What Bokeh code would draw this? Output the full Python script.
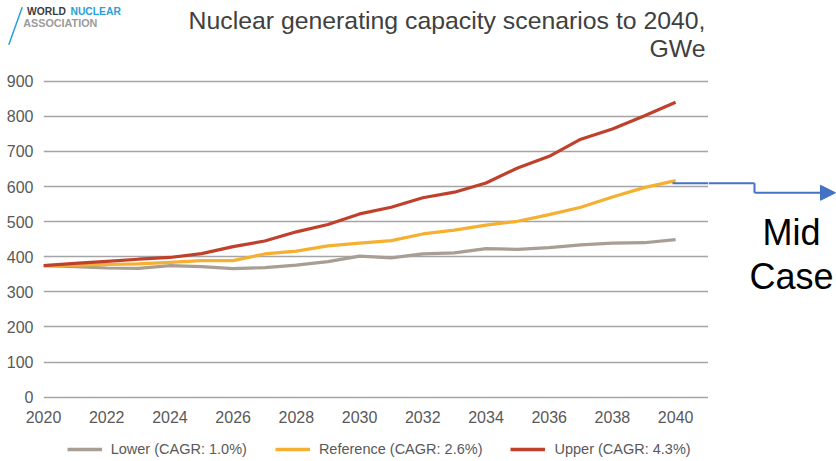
from bokeh.plotting import figure
from bokeh.layouts import column, row
from bokeh.models import (Range1d, FixedTicker, Label, Arrow, NormalHead, Legend, LegendItem)
from bokeh.embed import file_html
from bokeh.resources import INLINE

# ---- data ----
years = list(range(2020, 2041))
lower = [375, 372, 368, 367, 375, 372, 366, 369, 376, 386, 402, 397, 408, 411, 423, 421, 426, 434, 439, 440, 449]
reference = [375, 376, 378, 380, 384, 389, 389, 408, 416, 431, 439, 446, 465, 476, 490, 501, 520, 541, 570, 597, 617]
upper = [375, 381, 387, 393, 398, 409, 429, 445, 471, 492, 522, 541, 568, 584, 610, 653, 686, 735, 764, 801, 840]
series_names = ["Lower (CAGR: 1.0%)", "Reference (CAGR: 2.6%)", "Upper (CAGR: 4.3%)"]
series_colors = ["#A89E93", "#F5B031", "#C0412B"]
y_ticks = list(range(0, 1000, 100))
x_ticks = list(range(2020, 2042, 2))
title_lines = ["Nuclear generating capacity scenarios to 2040,", "GWe"]
logo_words = ["WORLD", "NUCLEAR", "ASSOCIATION"]
annotation_lines = ["Mid", "Case"]

FONT = "Liberation Sans"
BLUE = "#4472C4"
W = 836
H_HEAD = 70
H_MAIN = 360
H_LEG = 461 - H_HEAD - H_MAIN
X_SPLIT = 708
BORDER_TOP = 7
BORDER_BOTTOM = 29


def bare(fig):
    fig.outline_line_color = None
    fig.background_fill_color = "white"
    fig.border_fill_color = "white"
    fig.grid.visible = False
    return fig


# ---- header (logo + title), page-pixel coordinates ----
head = bare(figure(width=W, height=H_HEAD, output_backend="svg", toolbar_location=None,
                   x_range=Range1d(0, W), y_range=Range1d(H_HEAD, 0),
                   x_axis_location=None, y_axis_location=None, min_border=0))
head.add_layout(Label(x=705, y=20, text=title_lines[0], text_font=FONT, text_font_size="24.8px",
                      text_color="#404040", text_align="right", text_baseline="alphabetic"))
head.add_layout(Label(x=705, y=48, text=title_lines[1], text_font=FONT, text_font_size="24.8px",
                      text_color="#404040", text_align="right", text_baseline="alphabetic"))
head.add_layout(Label(x=26.5, y=11, text=logo_words[0], text_font=FONT, text_font_size="10.3px",
                      text_font_style="bold", text_color="#3C3C3C", text_baseline="alphabetic"))
head.add_layout(Label(x=70, y=11, text=logo_words[1], text_font=FONT, text_font_size="10.3px",
                      text_font_style="bold", text_color="#2A9FD8", text_baseline="alphabetic"))
head.add_layout(Label(x=22.7, y=22, text=logo_words[2], text_font=FONT, text_font_size="10.8px",
                      text_font_style="bold", text_color="#9B9B9B", text_baseline="alphabetic"))
head.add_layout(Arrow(x_start=21.7, y_start=6.7, x_end=8.3, y_end=44.3, end=None,
                      line_color="#2A9FD8", line_width=1.5))

# ---- main chart ----
p = figure(width=X_SPLIT, height=H_MAIN, output_backend="svg", toolbar_location=None,
           x_range=Range1d(2020, 2041.04), y_range=Range1d(-12.25, 910.6),
           min_border_left=43, min_border_right=0,
           min_border_top=BORDER_TOP, min_border_bottom=BORDER_BOTTOM)
p.outline_line_color = None
p.background_fill_color = "white"
p.border_fill_color = "white"

p.yaxis.ticker = FixedTicker(ticks=y_ticks)
p.xaxis.ticker = FixedTicker(ticks=x_ticks)
for ax in (p.xaxis, p.yaxis):
    ax.axis_line_color = None
    ax.major_tick_line_color = None
    ax.minor_tick_line_color = None
    ax.major_tick_out = 0
    ax.major_tick_in = 0
    ax.major_label_text_font = FONT
    ax.major_label_text_font_size = "16px"
    ax.major_label_text_color = "#595959"
p.yaxis.major_label_standoff = 10
p.xaxis.major_label_standoff = 9

p.xgrid.grid_line_color = None
p.ygrid.grid_line_color = "#A5A5A5"
p.ygrid.grid_line_width = 1.5

for vals, c in zip([lower, reference, upper], series_colors):
    p.line(years, vals, line_color=c, line_width=3.2)

# start of connector (inside the frame)
p.add_layout(Arrow(x_start=2039.9, y_start=609.5, x_end=2042, y_end=609.5, end=None,
                   line_color=BLUE, line_width=2))

# ---- right side (connector + "Mid Case"), page-pixel coordinates ----
# the row aligns this frame with the main frame (same top/bottom borders)
y_top = H_HEAD + BORDER_TOP
y_bot = H_HEAD + H_MAIN - BORDER_BOTTOM
side = bare(figure(width=W - X_SPLIT, height=H_MAIN, output_backend="svg", toolbar_location=None,
                   x_range=Range1d(X_SPLIT, W), y_range=Range1d(y_bot, y_top),
                   x_axis_location=None, y_axis_location=None, min_border=0))
side.add_layout(Arrow(x_start=X_SPLIT, y_start=182.7, x_end=754, y_end=182.7, end=None,
                      line_color=BLUE, line_width=2))
side.add_layout(Arrow(x_start=754, y_start=182.7, x_end=754, y_end=192.3, end=None,
                      line_color=BLUE, line_width=2))
side.add_layout(Arrow(x_start=754, y_start=192.3, x_end=835, y_end=192.3,
                      end=NormalHead(size=15, fill_color=BLUE, line_color=BLUE, line_width=1),
                      line_color=BLUE, line_width=2))
side.add_layout(Label(x=791, y=232, text=annotation_lines[0], text_font=FONT, text_font_size="36px",
                      text_color="#000000", text_align="center", text_baseline="alphabetic"))
side.add_layout(Label(x=791, y=275.5, text=annotation_lines[1], text_font=FONT, text_font_size="36px",
                      text_color="#000000", text_align="center", text_baseline="alphabetic"))

# ---- legend strip ----
leg = bare(figure(width=W, height=H_LEG, output_backend="svg", toolbar_location=None,
                  x_range=Range1d(0, W), y_range=Range1d(0, H_LEG),
                  x_axis_location=None, y_axis_location=None, min_border=0))
nan = float("nan")
proxies = [leg.line([nan, nan], [nan, nan], line_color=c, line_width=3.6) for c in series_colors]
legend = Legend(items=[LegendItem(label=n, renderers=[r]) for n, r in zip(series_names, proxies)],
                orientation="horizontal", location=(66.7, 4),
                glyph_width=35, glyph_height=16, label_height=16, label_standoff=9, spacing=28,
                padding=0, margin=0, border_line_color=None, background_fill_alpha=0,
                label_text_font=FONT, label_text_font_size="14.5px", label_text_color="#595959")
leg.add_layout(legend)

layout = column(head, row(p, side), leg)
open("out.html", "w").write(file_html(layout, INLINE))
